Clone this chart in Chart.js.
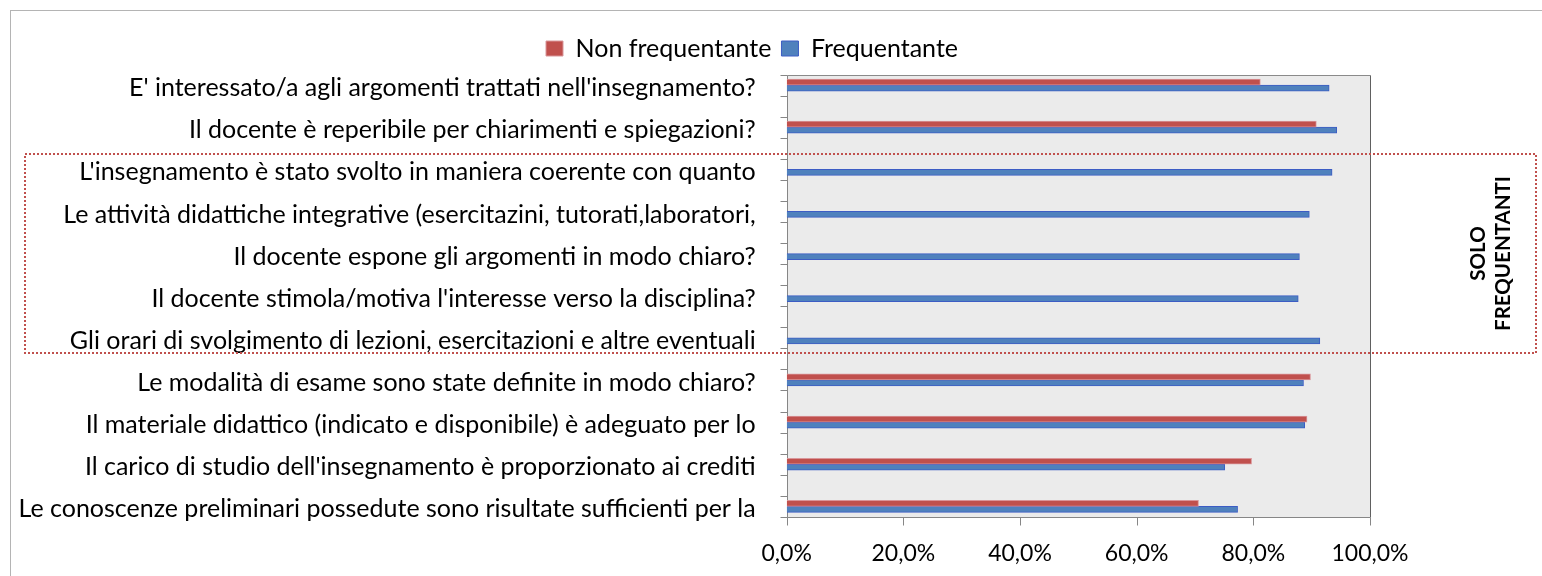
<!DOCTYPE html>
<html>
<head>
<meta charset="utf-8">
<script src="https://cdn.jsdelivr.net/npm/chart.js@4.4.1/dist/chart.umd.min.js"></script>
<style>
  html, body { margin: 0; padding: 0; background: #fff; }
  #wrap { width: 1542px; height: 576px; }
</style>
</head>
<body>
<div id="wrap"><canvas id="grafico" width="1542" height="576"></canvas></div>
<script>
// domande del questionario, dall'alto in basso (come nel foglio, etichette tagliate)
const domande = [
  "E' interessato/a agli argomenti trattati nell'insegnamento?",
  "Il docente è reperibile per chiarimenti e spiegazioni?",
  "L'insegnamento è stato svolto in maniera coerente con quanto",
  "Le attività didattiche integrative (esercitazini, tutorati,laboratori,",
  "Il docente espone gli argomenti in modo chiaro?",
  "Il docente stimola/motiva l'interesse verso la disciplina?",
  "Gli orari di svolgimento di lezioni, esercitazioni e altre eventuali",
  "Le modalità di esame sono state definite in modo chiaro?",
  "Il materiale didattico (indicato e disponibile) è adeguato per lo",
  "Il carico di studio dell'insegnamento è proporzionato ai crediti",
  "Le conoscenze preliminari possedute sono risultate sufficienti per la"
];

// percentuali di risposte positive
const nonFrequentante = [81.2, 90.8, null, null, null, null, null, 89.8, 89.2, 79.7, 70.6];
const frequentante = [93.0, 94.3, 93.5, 89.6, 87.9, 87.7, 91.4, 88.6, 88.8, 75.1, 77.3];

const tickPercentuali = ["0,0%", "20,0%", "40,0%", "60,0%", "80,0%", "100,0%"];

// riquadro tratteggiato: domande riservate ai frequentanti
const soloDa = 2;
const soloA = 6;
const soloTesto = ["SOLO", "FREQUENTANTI"];

const FONT = "Lato";

// sfondo grigio, assi e tacche stile Excel
const cornice = {
  id: "cornice",
  afterLayout(chart) {
    // in Excel la legenda è centrata un po' più a destra
    chart.legend.left = 134;
    chart.legend.right = chart.chartArea.right;
  },
  beforeDraw(chart) {
    const ctx = chart.ctx;
    ctx.save();
    ctx.fillStyle = "#ffffff";
    ctx.fillRect(0, 0, chart.width, chart.height);
    ctx.strokeStyle = "#b4b4b4";
    ctx.lineWidth = 1;
    ctx.strokeRect(10.5, 10.5, chart.width + 40, chart.height + 40);
    ctx.restore();
  },
  beforeDatasetsDraw(chart) {
    const ctx = chart.ctx;
    const x = chart.scales.x;
    const y = chart.scales.y;
    const step = y.getPixelForValue(1) - y.getPixelForValue(0);
    const top = Math.round(y.getPixelForValue(0) - step / 4) + 0.5;
    const bottom = Math.round(y.getPixelForValue(domande.length - 1) + step / 4) + 0.5;
    const left = Math.round(x.getPixelForValue(0)) + 0.5;
    const right = Math.round(x.getPixelForValue(100)) + 0.5;

    ctx.save();
    ctx.fillStyle = "#ebebeb";
    ctx.fillRect(left, top, right - left, bottom - top);

    ctx.lineWidth = 1;
    ctx.strokeStyle = "#8a8a8a";
    ctx.beginPath();
    ctx.moveTo(left, top);
    ctx.lineTo(right, top);
    ctx.stroke();
    ctx.strokeStyle = "#606060";
    ctx.beginPath();
    ctx.moveTo(right, top);
    ctx.lineTo(right, bottom);
    ctx.stroke();

    // tacche asse verticale (a metà tra le barre)
    ctx.strokeStyle = "#868686";
    ctx.beginPath();
    for (let i = 0; i < domande.length; i++) {
      const c = y.getPixelForValue(i);
      [c - step / 4, c + step / 4].forEach((p) => {
        const yy = Math.round(p) + 0.5;
        ctx.moveTo(left - 7, yy);
        ctx.lineTo(left, yy);
      });
    }
    // tacche asse orizzontale
    x.ticks.forEach((t) => {
      const xx = Math.round(x.getPixelForValue(t.value)) + 0.5;
      ctx.moveTo(xx, bottom);
      ctx.lineTo(xx, bottom + 8);
    });
    ctx.moveTo(left, top);
    ctx.lineTo(left, bottom);
    ctx.moveTo(left, bottom);
    ctx.lineTo(right, bottom);
    ctx.stroke();
    ctx.restore();
  },
  afterDraw(chart) {
    const ctx = chart.ctx;
    const y = chart.scales.y;
    const step = y.getPixelForValue(1) - y.getPixelForValue(0);
    const top = Math.round(y.getPixelForValue(soloDa) - step * 0.37);
    const bottom = Math.round(y.getPixelForValue(soloA) + step * 0.37);
    const left = 25;
    const right = chart.width - 6;

    ctx.save();
    ctx.strokeStyle = "#c0504d";
    ctx.lineWidth = 2;
    ctx.setLineDash([2, 2]);
    ctx.strokeRect(left, top, right - left, bottom - top);
    ctx.setLineDash([]);

    ctx.translate(1491, (top + bottom) / 2);
    ctx.rotate(-Math.PI / 2);
    ctx.fillStyle = "#000";
    ctx.font = "bold 20.5px " + FONT;
    ctx.textAlign = "center";
    ctx.textBaseline = "middle";
    ctx.fillText(soloTesto[0], 0, -12.5);
    ctx.fillText(soloTesto[1], 0, 12.5);
    ctx.restore();
  }
};

const ctx = document.getElementById("grafico").getContext("2d");
new Chart(ctx, {
  type: "bar",
  data: {
    labels: domande,
    datasets: [
      {
        label: "Non frequentante",
        data: nonFrequentante,
        backgroundColor: "#c0504d",
        borderColor: "#d9969a",
        borderWidth: 1,
        barThickness: 6
      },
      {
        label: "Frequentante",
        data: frequentante,
        backgroundColor: "#4f81bd",
        borderColor: "#3c5cc4",
        borderWidth: 1,
        barThickness: 6
      }
    ]
  },
  options: {
    indexAxis: "y",
    responsive: false,
    animation: false,
    layout: {
      padding: { top: 26, left: 10, right: 172, bottom: 0 }
    },
    plugins: {
      legend: {
        position: "top",
        align: "center",
        maxHeight: 38,
        labels: {
          color: "#000",
          font: { family: FONT, size: 25 },
          boxWidth: 17,
          boxHeight: 15,
          padding: 10
        }
      },
      tooltip: { enabled: false }
    },
    scales: {
      x: {
        min: 0,
        max: 100,
        afterFit: function (scale) {
          scale.height = 48.6;
        },
        ticks: {
          stepSize: 20,
          color: "#000",
          padding: 12,
          font: { family: FONT, size: 23 },
          callback: function (value, index) {
            return tickPercentuali[index];
          }
        },
        grid: { display: false, drawTicks: false },
        border: { display: false }
      },
      y: {
        afterFit: function (scale) {
          scale.width = 776.7;
        },
        ticks: {
          color: "#000",
          padding: 31,
          labelOffset: 3,
          autoSkip: false,
          font: { family: FONT, size: 25 }
        },
        grid: { display: false, drawTicks: false },
        border: { display: false }
      }
    }
  },
  plugins: [cornice]
});
</script>
</body>
</html>
